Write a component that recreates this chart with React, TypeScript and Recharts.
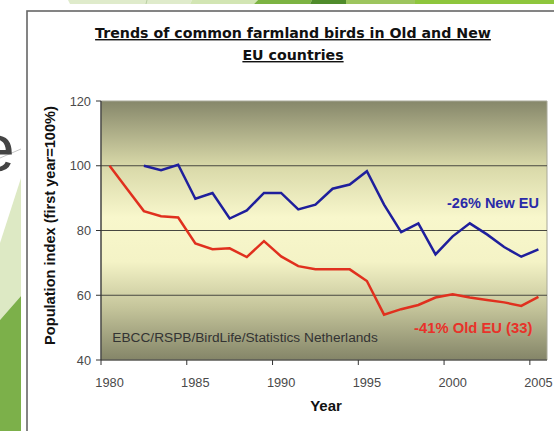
import React from 'react';
import { LineChart, Line, XAxis, YAxis, ReferenceLine, ReferenceArea, ReferenceDot } from 'recharts';

const years = [1980, 1981, 1982, 1983, 1984, 1985, 1986, 1987, 1988, 1989, 1990, 1991, 1992, 1993, 1994, 1995, 1996, 1997, 1998, 1999, 2000, 2001, 2002, 2003, 2004, 2005];
const newEU = [null, null, 100, 98.6, 100.3, 89.8, 91.6, 83.7, 86.2, 91.6, 91.6, 86.5, 88, 92.9, 94.2, 98.3, 88, 79.5, 82.2, 72.6, 78.2, 82.2, 78.8, 74.9, 71.9, 74.2];
const oldEU = [100, 93, 86, 84.4, 84, 76, 74.2, 74.5, 71.8, 76.7, 72, 69, 68, 68, 68, 64.4, 54, 55.7, 57, 59.3, 60.3, 59.3, 58.5, 57.8, 56.7, 59.5];
const yTicks = [40, 60, 80, 100, 120];
const yearLabels = [1980, 1985, 1990, 1995, 2000, 2005];
const gridValues = [60, 80, 100];
const titleLines = ['Trends of common farmland birds in Old and New', 'EU countries'];
const yLabel = 'Population index (first year=100%)';
const xLabel = 'Year';
const newLabel = '-26%  New EU';
const oldLabel = '-41%  Old EU (33)';
const sourceLabel = 'EBCC/RSPB/BirdLife/Statistics Netherlands';

const data = years.map((y, i) => ({ year: y, newEU: newEU[i], oldEU: oldEU[i] }));
const xTicks = [...yearLabels, ...yearLabels.map((y) => y - 0.5)].sort((a, b) => a - b);

const AX = 'Liberation Sans, Arial, sans-serif';

function XTick(props: any) {
  const { x, y, payload } = props;
  const v = payload.value;
  if (!Number.isInteger(v)) {
    return <line x1={x} x2={x} y1={y} y2={y + 5} stroke="#333" strokeWidth={1} />;
  }
  return (
    <text x={x} y={y + 27} textAnchor="middle" fontSize={12.8} fill="#4a4a4a" fontFamily={AX}>
      {v}
    </text>
  );
}

function YTick(props: any) {
  const { x, y, payload } = props;
  return (
    <text x={x} y={y + 4.5} textAnchor="end" fontSize={12.8} fill="#4a4a4a" fontFamily={AX}>
      {payload.value}
    </text>
  );
}

function YLabel(props: any) {
  const vb = props.viewBox || { x: 0, y: 101, width: 101, height: 259 };
  const cx = vb.x + 55;
  const cy = vb.y + vb.height / 2 - 5;
  return (
    <text x={cx} y={cy} transform={`rotate(-90 ${cx} ${cy})`} textAnchor="middle" fontSize={14.6} fontWeight="bold" fill="#111" fontFamily={AX}>
      {yLabel}
    </text>
  );
}

function XLabel(props: any) {
  const vb = props.viewBox || { x: 101, y: 360, width: 446, height: 40 };
  return (
    <text x={vb.x + vb.width / 2 + 2} y={vb.y + 51} textAnchor="middle" fontSize={15} fontWeight="bold" fill="#111" fontFamily={AX}>
      {xLabel}
    </text>
  );
}

function Decorations() {
  return (
    <svg width={554} height={431} style={{ position: 'absolute', left: 0, top: 0 }}>
      <rect x={0} y={0} width={554} height={431} fill="#ffffff" />
      {/* top green strip */}
      <polygon points="68,0 192,0 190,4 70,4" fill="#dfebcb" />
      <line x1={147} y1={0} x2={146} y2={4} stroke="#b9cfa2" strokeWidth={1} />
      <polygon points="192,0 258,0 254,4 190,4" fill="#d2e5b3" />
      <polygon points="258,0 312,0 310,4 254,4" fill="#7cb342" />
      <polygon points="312,0 346,0 346,4 310,4" fill="#4f8b2b" />
      <polygon points="346,0 415,0 415,4 346,4" fill="#9dc55e" />
      <polygon points="415,0 554,0 554,4 415,4" fill="#8ec63d" />
      {/* left green shapes */}
      <polygon points="21,178 21,296 0,320 0,243" fill="#dde9c4" />
      <polygon points="21,296 21,431 0,431 0,320" fill="#7cb04a" />
      <line x1={0} y1={158} x2={21} y2={149} stroke="#c4c4c4" strokeWidth={1} />
      <text x={-22} y={171} fontSize={66} fill="#444" fontFamily={AX}>e</text>
      {/* chart box */}
      <rect x={27} y={11} width={540} height={440} fill="#ffffff" stroke="#666" strokeWidth={1.6} />
      {/* title */}
      <text x={293} y={38} textAnchor="middle" fontSize={14.2} fontWeight="bold" fill="#111" fontFamily="DejaVu Sans, Verdana, sans-serif" textDecoration="underline">
        {titleLines[0]}
      </text>
      <text x={293} y={60} textAnchor="middle" fontSize={14.2} fontWeight="bold" fill="#111" fontFamily="DejaVu Sans, Verdana, sans-serif" textDecoration="underline">
        {titleLines[1]}
      </text>
    </svg>
  );
}

export default function App() {
  return (
    <div style={{ position: 'absolute', left: 0, top: 0, width: 554, height: 431, overflow: 'hidden', background: '#fff' }}>
      <Decorations />
      <div style={{ position: 'absolute', left: 0, top: 0 }}>
        <LineChart width={554} height={431} data={data} margin={{ top: 101, right: 7, bottom: 31, left: 0 }}>
          <defs>
            <linearGradient id="plotBg" x1="0" y1="0" x2="0" y2="1">
              <stop offset="0" stopColor="#86876a" />
              <stop offset="0.25" stopColor="#d8d8a8" />
              <stop offset="0.45" stopColor="#f8f7cc" />
              <stop offset="0.62" stopColor="#f4f3c6" />
              <stop offset="0.8" stopColor="#c4c49a" />
              <stop offset="1" stopColor="#848568" />
            </linearGradient>
          </defs>
          <XAxis
            dataKey="year"
            type="number"
            domain={[1979.5, 2005.5]}
            ticks={xTicks}
            interval={0}
            allowDataOverflow
            height={40}
            tickLine={false}
            tickSize={0}
            tickMargin={0}
            axisLine={{ stroke: '#333', strokeWidth: 1.2 }}
            tick={<XTick />}
            label={<XLabel />}
          />
          <YAxis
            type="number"
            domain={[40, 120]}
            ticks={yTicks}
            interval={0}
            width={101}
            tickSize={5}
            tickMargin={5}
            tickLine={{ stroke: '#333' }}
            axisLine={{ stroke: '#333', strokeWidth: 1.2 }}
            tick={<YTick />}
            label={<YLabel />}
          />
          <ReferenceArea x1={1979.5} x2={2005.5} y1={40} y2={120} fill="url(#plotBg)" fillOpacity={1} stroke="#a8a898" strokeWidth={1} ifOverflow="visible" />
          {gridValues.map((g) => (
            <ReferenceLine key={g} y={g} stroke="#474740" strokeWidth={1.2} />
          ))}
          <ReferenceDot x={1987.9} y={47.1} r={0} fill="none" stroke="none"
            label={{ value: sourceLabel, position: 'center', fontSize: 13.7, fill: '#333', fontFamily: AX }} />
          <ReferenceDot x={2002.35} y={88.5} r={0} fill="none" stroke="none"
            label={{ value: newLabel, position: 'center', fontSize: 14.5, fontWeight: 'bold', fill: '#2a2aa8', fontFamily: AX, style: { whiteSpace: 'pre' } }} />
          <ReferenceDot x={2001.2} y={50} r={0} fill="none" stroke="none"
            label={{ value: oldLabel, position: 'center', fontSize: 14.8, fontWeight: 'bold', fill: '#e8322a', fontFamily: AX, style: { whiteSpace: 'pre' } }} />
          <Line dataKey="oldEU" stroke="#e0301e" strokeWidth={2.5} dot={false} isAnimationActive={false} />
          <Line dataKey="newEU" stroke="#1f1f9c" strokeWidth={2.5} dot={false} isAnimationActive={false} connectNulls={false} />
        </LineChart>
      </div>
    </div>
  );
}
